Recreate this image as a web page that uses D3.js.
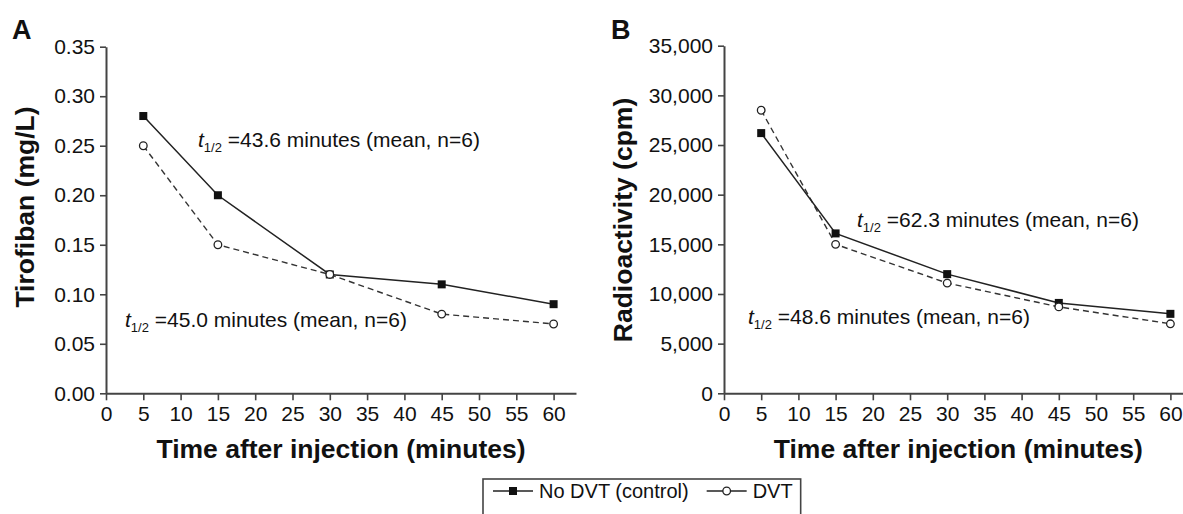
<!DOCTYPE html>
<html>
<head>
<meta charset="utf-8">
<script src="https://d3js.org/d3.v7.min.js"></script>
<style>
  body { margin: 0; background: #fff; }
  svg text { font-family: "Liberation Sans", Arial, Helvetica, sans-serif; fill: #111; }
  .axis path, .axis line { stroke: #444; }
  .axis path { stroke-width: 2px; }
  .axis line { stroke-width: 1.6px; }
</style>
</head>
<body>
<div id="chart"></div>
<script>
// shared x values (minutes)
var times = [5, 15, 30, 45, 60];
var xTicks = [0, 5, 10, 15, 20, 25, 30, 35, 40, 45, 50, 55, 60];

// panel A - tirofiban (mg/L)
var tiroControl = [0.28, 0.20, 0.12, 0.11, 0.09];
var tiroDvt = [0.25, 0.15, 0.12, 0.08, 0.07];
var tiroTicks = [0, 0.05, 0.10, 0.15, 0.20, 0.25, 0.30, 0.35];

// panel B - radioactivity (cpm)
var radioControl = [26200, 16100, 12000, 9100, 8000];
var radioDvt = [28500, 15000, 11100, 8700, 7000];
var radioTicks = [0, 5000, 10000, 15000, 20000, 25000, 30000, 35000];

var seriesNames = ["No DVT (control)", "DVT"];

var svg = d3.select("#chart").append("svg")
  .attr("width", 1183)
  .attr("height", 514);

function drawPanel(opt) {
  var g = svg.append("g");

  var x = d3.scaleLinear().domain([0, 63]).range([opt.x0, opt.x0 + 63 * opt.unit]);
  var y = d3.scaleLinear().domain([0, opt.ymax]).range([393.3, opt.ytop]);

  // x axis
  var xa = g.append("g").attr("class", "axis")
    .attr("transform", "translate(0," + y(0) + ")")
    .call(d3.axisBottom(x).tickValues(xTicks).tickSize(7).tickSizeOuter(0).tickPadding(6));
  xa.selectAll("text").attr("font-size", "21px").attr("fill", "#111");

  // y axis
  var ya = g.append("g").attr("class", "axis")
    .attr("transform", "translate(" + x(0) + ",0)")
    .call(d3.axisLeft(y).tickValues(opt.ticks).tickSize(6).tickSizeOuter(0).tickPadding(5).tickFormat(opt.fmt));
  ya.selectAll("text").attr("font-size", "21px").attr("fill", "#111");

  // axis titles
  g.append("text")
    .attr("x", (x(0) + x(63)) / 2)
    .attr("y", 458)
    .attr("text-anchor", "middle")
    .attr("font-size", "26.5px")
    .attr("font-weight", "bold")
    .text("Time after injection (minutes)");

  g.append("text")
    .attr("transform", "translate(" + opt.ytitleX + "," + opt.ytitleY + ") rotate(-90)")
    .attr("text-anchor", "middle")
    .attr("font-size", "26.5px")
    .attr("font-weight", "bold")
    .text(opt.ytitle);

  // panel letter
  g.append("text")
    .attr("x", opt.letterX)
    .attr("y", 39)
    .attr("font-size", "27px")
    .attr("font-weight", "bold")
    .text(opt.letter);

  var line = d3.line()
    .x(function(d) { return x(d[0]); })
    .y(function(d) { return y(d[1]); });

  var ctrl = times.map(function(t, i) { return [t, opt.control[i]]; });
  var dvt = times.map(function(t, i) { return [t, opt.dvt[i]]; });

  g.append("path").datum(dvt)
    .attr("d", line).attr("fill", "none")
    .attr("stroke", "#333").attr("stroke-width", 1.4)
    .attr("stroke-dasharray", "6,4");

  g.append("path").datum(ctrl)
    .attr("d", line).attr("fill", "none")
    .attr("stroke", "#222").attr("stroke-width", 1.5);

  g.selectAll(".sq").data(ctrl).enter().append("rect")
    .attr("x", function(d) { return x(d[0]) - 4; })
    .attr("y", function(d) { return y(d[1]) - 4; })
    .attr("width", 8).attr("height", 8)
    .attr("fill", "#111");

  g.selectAll(".ci").data(dvt).enter().append("circle")
    .attr("cx", function(d) { return x(d[0]); })
    .attr("cy", function(d) { return y(d[1]); })
    .attr("r", 3.8)
    .attr("fill", "#fff").attr("stroke", "#222").attr("stroke-width", 1.3);

  // half-life notes
  opt.notes.forEach(function(n) {
    var t = g.append("text").attr("x", n.x).attr("y", n.y).attr("font-size", "21px");
    t.append("tspan").attr("font-style", "italic").text("t");
    t.append("tspan").attr("font-size", "13px").attr("dy", 5).text("1/2");
    t.append("tspan").attr("dy", -5).text(" =" + n.text);
  });
}

drawPanel({
  x0: 106, unit: 7.46, ymax: 0.35, ytop: 46.7,
  ticks: tiroTicks, fmt: d3.format(".2f"),
  control: tiroControl, dvt: tiroDvt,
  ytitle: "Tirofiban (mg/L)", ytitleX: 34, ytitleY: 207,
  letter: "A", letterX: 12,
  notes: [
    { x: 198, y: 147, text: "43.6 minutes (mean, n=6)" },
    { x: 125, y: 327, text: "45.0 minutes (mean, n=6)" }
  ]
});

drawPanel({
  x0: 724, unit: 7.44, ymax: 35000, ytop: 45.7,
  ticks: radioTicks, fmt: d3.format(","),
  control: radioControl, dvt: radioDvt,
  ytitle: "Radioactivity (cpm)", ytitleX: 632, ytitleY: 220,
  letter: "B", letterX: 611,
  notes: [
    { x: 857, y: 227, text: "62.3 minutes (mean, n=6)" },
    { x: 748, y: 324, text: "48.6 minutes (mean, n=6)" }
  ]
});

// legend
var lg = svg.append("g");
var ly = 491;
var box = lg.append("rect")
  .attr("x", 483).attr("y", 479)
  .attr("height", 50)
  .attr("fill", "#fff").attr("stroke", "#444").attr("stroke-width", 1.6);

var lx = 493;
seriesNames.forEach(function(name, i) {
  lg.append("line")
    .attr("x1", lx).attr("x2", lx + 40).attr("y1", ly).attr("y2", ly)
    .attr("stroke", "#222").attr("stroke-width", 1.5);
  if (i === 0) {
    lg.append("rect").attr("x", lx + 16).attr("y", ly - 4).attr("width", 8).attr("height", 8).attr("fill", "#111");
  } else {
    lg.append("circle").attr("cx", lx + 20).attr("cy", ly).attr("r", 3.8)
      .attr("fill", "#fff").attr("stroke", "#222").attr("stroke-width", 1.3);
  }
  var tx = lg.append("text").attr("x", lx + 46).attr("y", ly + 7).attr("font-size", "20px").text(name);
  lx = lx + 46 + tx.node().getComputedTextLength() + 18;
});
box.attr("width", lx - 18 + 8 - 483);
</script>
</body>
</html>
